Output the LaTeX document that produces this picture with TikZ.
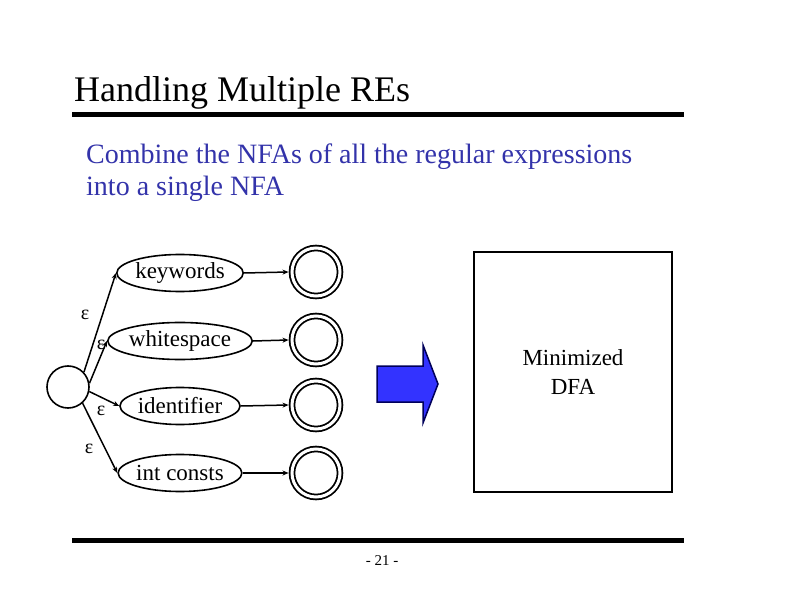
\documentclass[tikz,border=0pt]{standalone}
\usepackage{fontspec}
\setmainfont{Liberation Serif}
\usetikzlibrary{shapes.geometric,arrows.meta,positioning}

\definecolor{subblue}{RGB}{51,51,170}
\definecolor{arrowblue}{RGB}{51,51,255}
\definecolor{arrowedge}{RGB}{0,0,90}

\tikzset{
  startstate/.style={draw, circle, line width=1.6pt, minimum size=42pt, inner sep=0pt},
  finalstate/.style={draw, circle, line width=1.8pt, double, double distance=3pt,
    minimum size=48pt, inner sep=0pt, outer sep=3.5pt},
  regex/.style={draw, ellipse, line width=1.6pt, minimum width=120pt, minimum height=37pt,
    inner sep=0pt, font=\fontsize{23}{25}\selectfont},
  trans/.style={-{Stealth[length=6pt,width=5pt]}, line width=1.5pt},
  epslabel/.style={font=\fontsize{20}{22}\selectfont, inner sep=0pt},
}

\begin{document}
\begin{tikzpicture}[x=1pt, y=-1pt]
    \useasboundingbox (0,0) rectangle (792,612);

    % title and rules
    \node[anchor=base west, inner sep=0pt, font=\fontsize{36}{40}\selectfont] (title) at (74,102) {Handling Multiple REs};
    \draw[line width=5pt] (72,114.5) -- (684,114.5);
    \draw[line width=5pt] (72,540.5) -- (684,540.5);
    \node[inner sep=0pt, font=\fontsize{15}{17}\selectfont] (page) at (382,561) {- 21 -};

    % subtitle
    \node[anchor=base west, inner sep=0pt, text=subblue, font=\fontsize{28}{30}\selectfont] (sub1) at (86,164) {Combine the NFAs of all the regular expressions};
    \node[anchor=base west, inner sep=0pt, text=subblue, font=\fontsize{28}{30}\selectfont] (sub2) at (86,196) {into a single NFA};

    % combined NFA
    \node[startstate] (start) at (68,387) {};
    \node[regex] (kw) at (180,273) {keywords};
    \node[regex] (ws) at (180,341) {whitespace};
    \node[regex] (id) at (180,406) {identifier};
    \node[regex] (ic) at (180,473) {int consts};
    \node[finalstate] (kwacc) at (316,272) {};
    \node[finalstate] (wsacc) at (316,340) {};
    \node[finalstate] (idacc) at (316,405) {};
    \node[finalstate] (icacc) at (316,473) {};

    \draw[trans] (start.43) -- (kw.west);
    \draw[trans] (start.10) -- (ws.west);
    \draw[trans] (start.-12) -- (id.west);
    \draw[trans] (start.-48) -- (ic.west);
    \foreach \r in {kw,ws,id,ic}
        \draw[trans] (\r.east) -- (\r acc.west);

    \node[epslabel] (eps1) at (85,315) {ε};
    \node[epslabel] (eps2) at (101,345) {ε};
    \node[epslabel] (eps3) at (101,411) {ε};
    \node[epslabel] (eps4) at (89,449) {ε};

    % conversion arrow
    \filldraw[fill=arrowblue, draw=arrowedge, line width=1.5pt, line join=miter]
        (377,366) -- (423,366) -- (423,345) -- (438,384) -- (423,423) -- (423,402) -- (377,402) -- cycle;

    % result
    \node[draw, line width=1.6pt, minimum width=198pt, minimum height=240pt, inner sep=0pt,
          align=center, font=\fontsize{23}{29}\selectfont] (dfa) at (573,372) {Minimized\\DFA};
\end{tikzpicture}
\end{document}
